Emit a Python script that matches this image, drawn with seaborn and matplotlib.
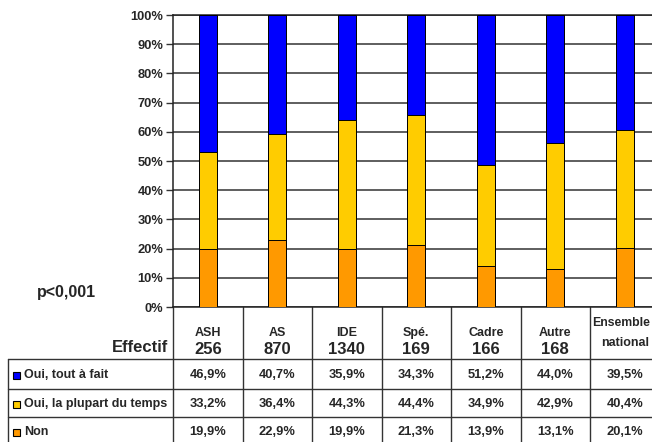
import matplotlib
matplotlib.use("Agg")
import matplotlib.pyplot as plt
import matplotlib.transforms as mtransforms
from matplotlib.patches import Rectangle
import pandas as pd
import seaborn as sns

# ---- data -------------------------------------------------------------
categories = ["ASH", "AS", "IDE", "Spé.", "Cadre", "Autre", "Ensemble\nnational"]
effectifs = ["256", "870", "1340", "169", "166", "168", ""]
series_names = ["Oui, tout à fait", "Oui, la plupart du temps", "Non"]
tout_a_fait = [46.9, 40.7, 35.9, 34.3, 51.2, 44.0, 39.5]
plupart = [33.2, 36.4, 44.3, 44.4, 34.9, 42.9, 40.4]
non = [19.9, 22.9, 19.9, 21.3, 13.9, 13.1, 20.1]
series_colors = ["#0000FF", "#FFCC00", "#FF9900"]
ytick_values = [0, 10, 20, 30, 40, 50, 60, 70, 80, 90, 100]

# ---- style ------------------------------------------------------------
sns.set_theme(style="white")
plt.rcParams["font.family"] = ["Liberation Sans", "DejaVu Sans"]
plt.rcParams["font.weight"] = "bold"

W, H = 652, 442
fig = plt.figure(figsize=(W / 100, H / 100), dpi=100)
fig.patch.set_facecolor("white")


def fx(px):
    return px / W


def fy(py):
    return 1 - py / H


col_w = 69.5
ax_left, ax_top, ax_bottom = 173, 15, 307
ax = fig.add_axes([fx(ax_left), fy(ax_bottom), col_w * len(categories) / W,
                   (ax_bottom - ax_top) / H])

df = pd.DataFrame({"cat": categories, "tout": tout_a_fait,
                   "plupart": plupart, "non": non})
# cumulative heights so that overlaid bars read as a stack
df["c_top"] = df["tout"] + df["plupart"] + df["non"]
df["c_mid"] = df["plupart"] + df["non"]
df["c_low"] = df["non"]

for col, color in zip(["c_top", "c_mid", "c_low"], series_colors):
    sns.barplot(data=df, x="cat", y=col, color=color, saturation=1,
                width=0.26, edgecolor="black", linewidth=0.7,
                errorbar=None, ax=ax, zorder=3)

ax.set_xlim(-0.5, len(categories) - 0.5)
ax.set_ylim(0, 100)
ax.set_xticks([])
ax.set_xlabel("")
ax.set_ylabel("")
ax.set_yticks(ytick_values)
ax.set_yticklabels([f"{v}%" for v in ytick_values], fontsize=9.3,
                   fontweight="bold")
ax.tick_params(axis="y", left=True, length=5, width=1, color="#333333",
               pad=2, direction="out")
ax.yaxis.grid(True, color="#333333", linewidth=1.1)
ax.set_axisbelow(True)
for side in ["left", "bottom", "top", "right"]:
    ax.spines[side].set_color("#222222")
    ax.spines[side].set_linewidth(1.1)

# ---- data table below the plot ---------------------------------------
line_c = "#333333"
tr = mtransforms.blended_transform_factory(ax.transData, fig.transFigure)
n = len(categories)

# vertical separators aligned with the categories
for i in range(n + 1):
    ax.plot([i - 0.5, i - 0.5], [fy(ax_bottom), fy(450)], transform=tr,
            color=line_c, linewidth=1, clip_on=False)

row_lines = [359, 389, 417]
for yl in row_lines:
    fig.add_artist(plt.Line2D([fx(8), fx(700)], [fy(yl), fy(yl)],
                              transform=fig.transFigure, color=line_c,
                              linewidth=1))
fig.add_artist(plt.Line2D([fx(8), fx(8)], [fy(359), fy(450)],
                          transform=fig.transFigure, color=line_c,
                          linewidth=1))

# header: categories and sample sizes
for i, (cat, eff) in enumerate(zip(categories, effectifs)):
    if eff:
        ax.text(i, fy(333), cat, transform=tr, ha="center", va="center",
                fontsize=9, fontweight="bold")
        ax.text(i, fy(350), eff, transform=tr, ha="center", va="center",
                fontsize=12, fontweight="bold")
    else:
        first, second = cat.split("\n")
        fig.text(fx(650), fy(323), first, ha="right", va="center",
                 fontsize=8.8, fontweight="bold")
        ax.text(i, fy(343), second, transform=tr, ha="center",
                va="center", fontsize=9, fontweight="bold")

fig.text(fx(168), fy(348), "Effectif", ha="right", va="center",
         fontsize=12, fontweight="bold")
fig.text(fx(66), fy(292), "p<0,001", ha="center", va="center",
         fontsize=11.5, fontweight="bold")

# body rows: legend swatch, label and percentages
row_y = [375, 404, 432]
for name, vals, color, yr in zip(series_names, [tout_a_fait, plupart, non],
                                 series_colors, row_y):
    fig.add_artist(Rectangle((fx(12.5), fy(yr + 3.5)), 7 / W, 7 / H,
                             transform=fig.transFigure, facecolor=color,
                             edgecolor="black", linewidth=0.8))
    fig.text(fx(24), fy(yr), name, ha="left", va="center", fontsize=9,
             fontweight="bold")
    for i, v in enumerate(vals):
        ax.text(i, fy(yr), f"{v:.1f}%".replace(".", ","), transform=tr,
                ha="center", va="center", fontsize=9.3, fontweight="bold")

fig.savefig("out.png", dpi=100)
